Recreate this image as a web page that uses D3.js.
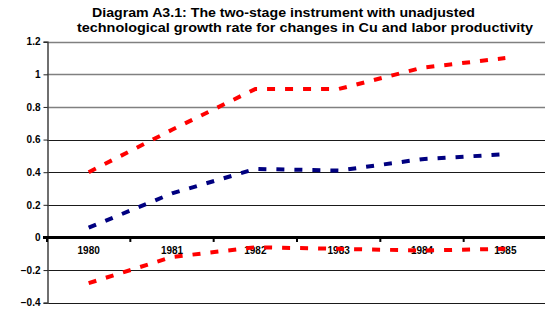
<!DOCTYPE html>
<html><head><meta charset="utf-8">
<script src="https://cdn.jsdelivr.net/npm/d3@7/dist/d3.min.js"></script>
<style>body{margin:0;background:#fff}svg{display:block}</style>
</head><body>
<script>
const years = ["1980","1981","1982","1983","1984","1985"];
const upperBand = [0.40, 0.66, 0.91, 0.91, 1.04, 1.10];
const estimate = [0.06, 0.27, 0.42, 0.41, 0.48, 0.51];
const lowerBand = [-0.28, -0.12, -0.06, -0.07, -0.08, -0.07];
const yTicks = [-0.4, -0.2, 0, 0.2, 0.4, 0.6, 0.8, 1, 1.2];
const titleLines = ["Diagram A3.1: The two-stage instrument with unadjusted",
                    "technological growth rate for changes in Cu and labor productivity"];

const W = 545, H = 309;
const svg = d3.select("body").append("svg").attr("width", W).attr("height", H);
const x = d3.scaleBand().domain(years).range([47, 547]);
const y = d3.scaleLinear().domain([-0.4, 1.2]).range([302.7, 41.7]);

// title
const tx = [92, 77], tw = [383, 456], ty = [17, 32];
titleLines.forEach((t, i) => {
  svg.append("text").attr("x", tx[i]).attr("y", ty[i])
    .attr("font-family", "Liberation Sans, Arial, sans-serif")
    .attr("font-weight", "bold").attr("font-size", 13)
    .attr("textLength", tw[i]).attr("lengthAdjust", "spacingAndGlyphs")
    .text(t);
});

// gridlines
svg.append("g").selectAll("line").data(yTicks.filter(d => d !== 0)).join("line")
  .attr("x1", 47).attr("x2", W)
  .attr("y1", d => Math.round(y(d)) + 0.5).attr("y2", d => Math.round(y(d)) + 0.5)
  .attr("stroke", d => d >= 0.8 ? "#808080" : "#1a1a1a")
  .attr("stroke-width", d => d >= 0.8 ? 1.6 : 1);

// y axis
const yAxis = d3.axisLeft(y).tickValues(yTicks).tickSize(4).tickPadding(3)
  .tickFormat(d => d3.format("")(+d.toFixed(1)));
const ga = svg.append("g").attr("transform", "translate(47.5,0)").call(yAxis);
ga.select(".domain").attr("stroke", "#404040").attr("stroke-width", 1.5);
ga.selectAll(".tick line").attr("stroke", "#222");
ga.selectAll("text").attr("font-family", "Liberation Sans, Arial, sans-serif")
  .attr("font-weight", "bold").attr("font-size", 10).attr("fill", "#000");

// zero line + x axis
const xAxis = d3.axisBottom(x).tickSize(0).tickPadding(9);
const gx = svg.append("g").attr("transform", `translate(0,${y(0)})`).call(xAxis);
gx.select(".domain").remove();
gx.selectAll("text").attr("font-family", "Liberation Sans, Arial, sans-serif")
  .attr("font-weight", "bold").attr("font-size", 10).attr("fill", "#000");
svg.append("line").attr("x1", 43).attr("x2", W).attr("y1", y(0)).attr("y2", y(0))
  .attr("stroke", "#000").attr("stroke-width", 3);
const bounds = years.map(d => x(d));
svg.append("g").selectAll("line").data(bounds).join("line")
  .attr("x1", d => d).attr("x2", d => d)
  .attr("y1", y(0)).attr("y2", y(0) + 4.5)
  .attr("stroke", "#000").attr("stroke-width", 2);

// series
const line = d3.line().x((d, i) => x(years[i]) + x.bandwidth() / 2).y(d => y(d));
const series = [[upperBand, "#ff0000"], [estimate, "#000080"], [lowerBand, "#ff0000"]];
series.forEach(([vals, col]) => {
  svg.append("path").attr("d", line(vals)).attr("fill", "none")
    .attr("stroke", col).attr("stroke-width", 4)
    .attr("stroke-dasharray", "8,10");
});
</script>
</body></html>
